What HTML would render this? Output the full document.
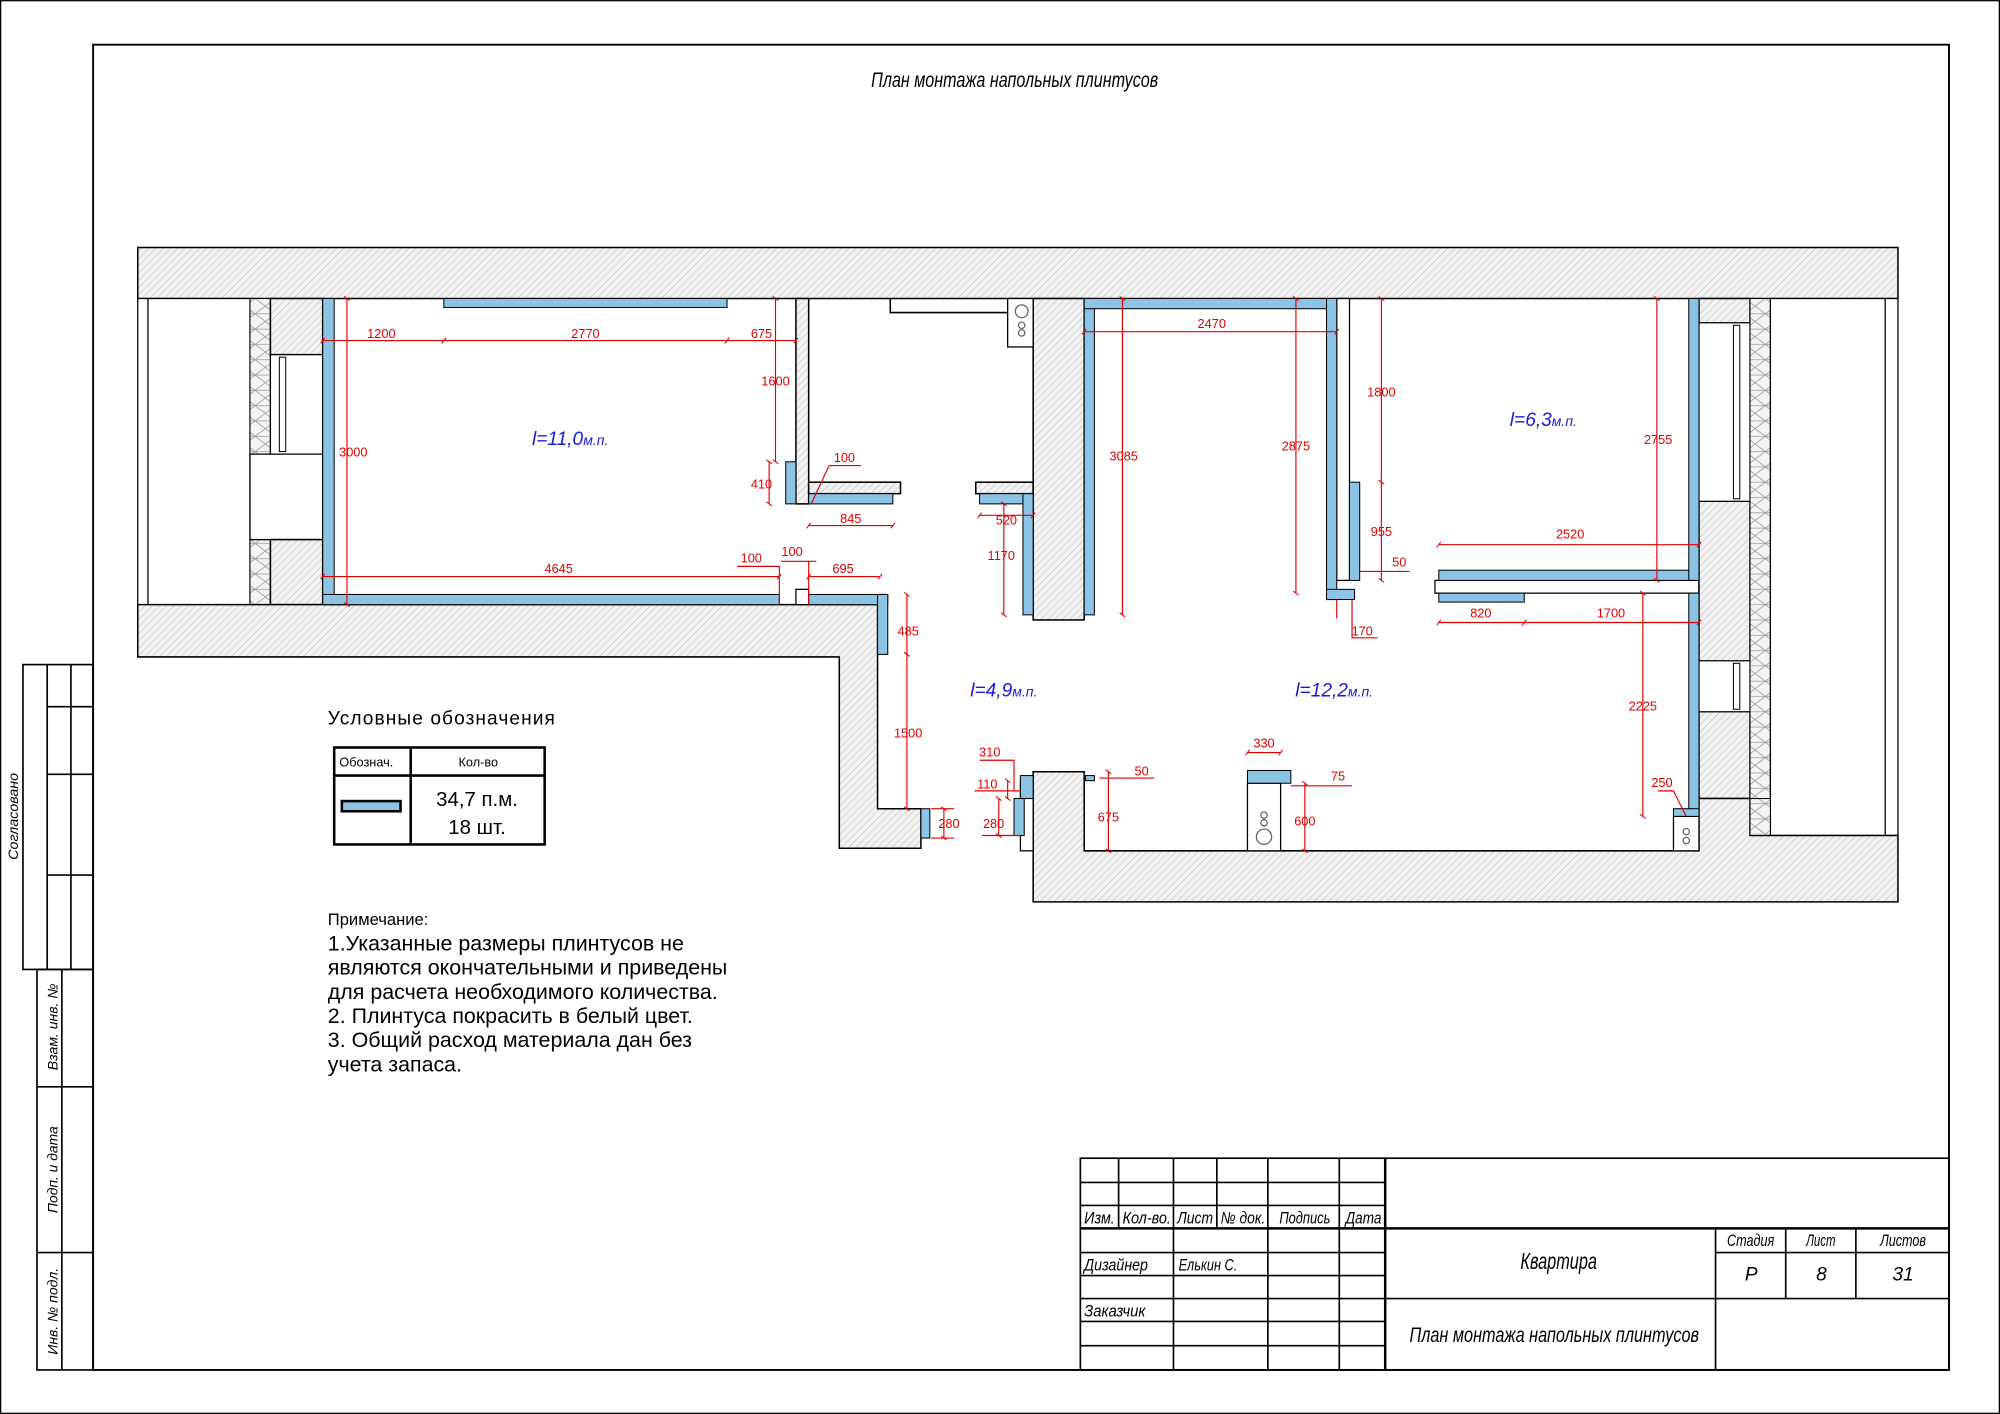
<!DOCTYPE html>
<html><head><meta charset="utf-8"><style>
html,body{margin:0;padding:0;background:#fff}
svg{display:block}
text{font-family:"Liberation Sans",sans-serif}
.it{font-style:italic}
.d{fill:#e00000;font-size:10px;text-anchor:middle}
.dl{stroke:#e00000;stroke-width:0.9;fill:none}
.b{fill:#8cc4e6;stroke:#000;stroke-width:0.8}
.h{fill:url(#hatch);stroke:#000;stroke-width:1.2}
.w{fill:#fff;stroke:#000;stroke-width:1}
.x{fill:url(#cross);stroke:#000;stroke-width:0.8}
.r{fill:#1a1adc;font-size:15px;font-style:italic}
.t{font-size:11px;font-style:italic}
</style></head><body>
<svg width="2000" height="1414" viewBox="0 0 1568 1108.5" xmlns="http://www.w3.org/2000/svg">
<defs>
<pattern id="hatch" width="4" height="4" patternUnits="userSpaceOnUse" patternTransform="rotate(45)">
<rect width="4" height="4" fill="#f2f2f2"/><line x1="0" y1="0" x2="0" y2="4" stroke="#bbb" stroke-width="0.8"/></pattern>
<pattern id="cross" width="16" height="12" patternUnits="userSpaceOnUse">
<rect width="16" height="12" fill="#f4f4f4"/><path d="M0 0L16 12M16 0L0 12M0 6H16" stroke="#999" stroke-width="0.6"/></pattern>
<marker id="tk" viewBox="0 0 10 10" refX="5" refY="5" markerWidth="6" markerHeight="6" orient="auto"><path d="M2 9L8 1" stroke="#e00000" stroke-width="1.5"/></marker>
</defs>
<rect x="0.5" y="0.5" width="1567" height="1107.5" fill="#fff" stroke="#000" stroke-width="1"/>
<rect x="73" y="35" width="1455" height="1039" fill="none" stroke="#000" stroke-width="1.5"/>
<text x="683" y="68" class="it" font-size="17" textLength="225" lengthAdjust="spacingAndGlyphs">План монтажа напольных плинтусов</text>

<!-- left strip -->
<g fill="none" stroke="#000" stroke-width="1.3">
<rect x="18" y="521" width="55" height="239"/>
<line x1="37" y1="521" x2="37" y2="760"/><line x1="55.6" y1="521" x2="55.6" y2="760"/>
<line x1="37" y1="554" x2="73" y2="554"/><line x1="37" y1="607" x2="73" y2="607"/><line x1="37" y1="686" x2="73" y2="686"/>
<rect x="29" y="760" width="44" height="314"/>
<line x1="48.5" y1="760" x2="48.5" y2="1074"/>
<line x1="29" y1="852" x2="73" y2="852"/><line x1="29" y1="982" x2="73" y2="982"/>
</g>
<g class="t" font-size="13">
<text transform="translate(14,640) rotate(-90)" x="-34" font-style="italic" textLength="68" lengthAdjust="spacingAndGlyphs">Согласовано</text>
<text transform="translate(45,805) rotate(-90)" x="-34" font-style="italic" textLength="68" lengthAdjust="spacingAndGlyphs">Взам. инв. №</text>
<text transform="translate(45,917) rotate(-90)" x="-34" font-style="italic" textLength="68" lengthAdjust="spacingAndGlyphs">Подп. и дата</text>
<text transform="translate(45,1028) rotate(-90)" x="-34" font-style="italic" textLength="68" lengthAdjust="spacingAndGlyphs">Инв. № подл.</text>
</g>

<!-- walls -->
<rect class="h" x="108" y="194" width="1380" height="40"/>
<rect class="w" x="108" y="234" width="88" height="240"/>
<line x1="116" y1="234" x2="116" y2="474" stroke="#000"/>
<rect class="x" x="196" y="234" width="16" height="122"/>
<rect class="x" x="196" y="423" width="16" height="51"/>
<rect class="h" x="212" y="234" width="41" height="44"/>
<rect class="w" x="212" y="278" width="41" height="78"/>
<rect x="219" y="280" width="5" height="74" fill="#fff" stroke="#000" stroke-width="0.8"/>
<rect class="w" x="196" y="356" width="57" height="67"/>
<rect class="h" x="212" y="423" width="41" height="51"/>
<polygon class="h" points="108,474 688,474 688,634 722,634 722,665 658,665 658,515 108,515"/>
<rect x="624" y="462" width="10" height="12" fill="#fff" stroke="#000" stroke-width="1"/>
<rect class="h" x="624" y="234" width="10" height="161"/>
<rect class="h" x="634" y="378" width="72" height="9"/>
<rect class="h" x="765" y="378" width="45" height="9"/>
<rect class="h" x="810" y="234" width="40" height="252"/>
<rect class="w" x="1048" y="234" width="10" height="221"/>
<rect class="w" x="1125" y="455" width="207" height="10"/>
<rect class="h" x="1332" y="234" width="40" height="392"/>
<rect class="w" x="1332" y="253" width="40" height="140"/>
<rect x="1359" y="255" width="5" height="136" fill="#fff" stroke="#000" stroke-width="0.8"/>
<rect class="w" x="1332" y="518" width="40" height="40"/>
<rect x="1359" y="520" width="5" height="36" fill="#fff" stroke="#000" stroke-width="0.8"/>
<rect class="x" x="1372" y="234" width="16" height="421"/>
<rect class="w" x="1388" y="234" width="100" height="421"/>
<line x1="1478" y1="234" x2="1478" y2="655" stroke="#000"/>
<polygon class="h" points="810,605 850,605 850,667 1332,667 1332,626 1372,626 1372,655 1488,655 1488,707 810,707"/>
<rect class="x" x="1372" y="626" width="16" height="29"/>
<rect class="w" x="800" y="612" width="10" height="55"/>
<!-- kitchen items -->
<polyline points="698,234 698,245 790,245" fill="none" stroke="#000" stroke-width="1.2"/>
<rect class="w" x="790" y="234" width="20" height="38"/>
<circle cx="801" cy="244" r="5" fill="none" stroke="#666"/><circle cx="801" cy="255" r="2.5" fill="none" stroke="#666"/><circle cx="801" cy="261" r="2.5" fill="none" stroke="#666"/>
<rect class="w" x="978" y="614" width="26" height="53"/>
<circle cx="991" cy="656" r="6" fill="none" stroke="#666"/><circle cx="991" cy="645" r="2.5" fill="none" stroke="#666"/><circle cx="991" cy="639" r="2.5" fill="none" stroke="#666"/>
<rect class="w" x="1312" y="640" width="20" height="27"/>
<circle cx="1322" cy="652" r="2.5" fill="none" stroke="#666"/><circle cx="1322" cy="659" r="2.5" fill="none" stroke="#666"/>

<!-- baseboards -->
<rect class="b" x="253" y="234" width="9" height="240"/>
<rect class="b" x="253" y="466" width="358" height="8"/>
<rect class="b" x="348" y="234" width="222" height="7"/>
<rect class="b" x="616" y="362" width="8" height="33"/>
<rect class="b" x="634" y="387" width="66" height="8"/>
<rect class="b" x="634" y="466" width="62" height="8"/>
<rect class="b" x="688" y="466" width="8" height="47"/>
<rect class="b" x="722" y="634" width="7" height="23"/>
<rect class="b" x="768" y="387" width="42" height="8"/>
<rect class="b" x="802" y="387" width="8" height="95"/>
<rect class="b" x="795" y="626" width="8" height="29"/>
<rect class="b" x="800" y="608" width="10" height="18"/>
<rect class="b" x="851" y="608" width="7" height="4"/>
<rect class="b" x="850" y="234" width="8" height="248"/>
<rect class="b" x="850" y="234" width="198" height="8"/>
<rect class="b" x="1040" y="234" width="8" height="236"/>
<rect class="b" x="1040" y="462" width="22" height="8"/>
<rect class="b" x="1058" y="378" width="8" height="77"/>
<rect class="b" x="1128" y="447" width="204" height="8"/>
<rect class="b" x="1324" y="234" width="8" height="221"/>
<rect class="b" x="1128" y="465" width="67" height="7"/>
<rect class="b" x="1324" y="465" width="8" height="175"/>
<rect class="b" x="1312" y="634" width="20" height="6"/>
<rect class="b" x="978" y="604" width="34" height="10"/>

<!-- dimensions -->
<g class="dl" marker-start="url(#tk)" marker-end="url(#tk)">
<line x1="253" y1="267" x2="348" y2="267"/><line x1="348" y1="267" x2="570" y2="267"/><line x1="570" y1="267" x2="624" y2="267"/>
<line x1="272" y1="234" x2="272" y2="474"/>
<line x1="608" y1="234" x2="608" y2="362"/><line x1="603" y1="362" x2="603" y2="395"/>
<line x1="634" y1="412" x2="700" y2="412"/>
<line x1="253" y1="452" x2="611" y2="452"/><line x1="634" y1="452" x2="690" y2="452"/>
<line x1="711" y1="466" x2="711" y2="513"/><line x1="711" y1="513" x2="711" y2="634"/>
<line x1="740" y1="634" x2="740" y2="657"/>
<line x1="768" y1="404" x2="810" y2="404"/><line x1="787" y1="395" x2="787" y2="482"/>
<line x1="880" y1="234" x2="880" y2="482"/>
<line x1="850" y1="260" x2="1048" y2="260"/>
<line x1="1016" y1="234" x2="1016" y2="465"/>
<line x1="1083" y1="234" x2="1083" y2="378"/><line x1="1083" y1="378" x2="1083" y2="455"/>
<line x1="1299" y1="234" x2="1299" y2="455"/>
<line x1="1128" y1="427" x2="1332" y2="427"/>
<line x1="1128" y1="488" x2="1195" y2="488"/><line x1="1195" y1="488" x2="1332" y2="488"/>
<line x1="1288" y1="465" x2="1288" y2="640"/>
<line x1="869" y1="605" x2="869" y2="667"/>
<line x1="978" y1="590" x2="1004" y2="590"/>
<line x1="1023" y1="614" x2="1023" y2="667"/>
<line x1="790" y1="612" x2="790" y2="626"/><line x1="783" y1="626" x2="783" y2="655"/>
</g>
<g class="dl">
<path d="M650 365H675M650 365L636 395"/><path d="M578 444H611M611 444V474"/><path d="M612 440H640M634 440V474"/>
<path d="M1066 448H1105"/><path d="M1048 470V485M1060 470V500H1080"/><path d="M862 610H905"/>
<path d="M1012 616H1060"/><path d="M1300 620H1312L1322 640"/><path d="M768 596H795V620"/><path d="M764 620H800"/><path d="M770 655H800"/>
<path d="M730 634H748M730 657H748"/>
</g>
<g class="d">
<text x="299" y="265">1200</text><text x="459" y="265">2770</text><text x="597" y="265">675</text>
<text x="277" y="358">3000</text><text x="608" y="302">1600</text><text x="597" y="383">410</text>
<text x="662" y="362">100</text><text x="667" y="410">845</text><text x="438" y="449">4645</text>
<text x="589" y="441">100</text><text x="621" y="436">100</text><text x="661" y="449">695</text>
<text x="712" y="498">485</text><text x="712" y="578">1500</text><text x="744" y="649">280</text>
<text x="789" y="411">520</text><text x="785" y="439">1170</text><text x="881" y="361">3085</text>
<text x="950" y="257">2470</text><text x="1016" y="353">2875</text><text x="1083" y="311">1800</text>
<text x="1083" y="420">955</text><text x="1097" y="444">50</text><text x="1068" y="498">170</text>
<text x="1300" y="348">2755</text><text x="1231" y="422">2520</text><text x="1161" y="484">820</text>
<text x="1263" y="484">1700</text><text x="1288" y="557">2225</text><text x="1303" y="617">250</text>
<text x="776" y="593">310</text><text x="774" y="618">110</text><text x="779" y="649">280</text>
<text x="895" y="608">50</text><text x="869" y="644">675</text><text x="991" y="586">330</text>
<text x="1049" y="612">75</text><text x="1023" y="647">600</text>
</g>
<text x="447" y="349" class="r" text-anchor="middle">l=11,0<tspan font-size="11">м.п.</tspan></text>
<text x="787" y="546" class="r" text-anchor="middle">l=4,9<tspan font-size="11">м.п.</tspan></text>
<text x="1046" y="546" class="r" text-anchor="middle">l=12,2<tspan font-size="11">м.п.</tspan></text>
<text x="1210" y="334" class="r" text-anchor="middle">l=6,3<tspan font-size="11">м.п.</tspan></text>

<!-- legend -->
<text x="257" y="568" font-size="15" textLength="178">Условные обозначения</text>
<g fill="none" stroke="#000" stroke-width="2">
<rect x="262" y="586" width="165" height="76"/><line x1="322" y1="586" x2="322" y2="662"/><line x1="262" y1="608" x2="427" y2="608"/>
</g>
<text x="266" y="601" font-size="10">Обознач.</text><text x="375" y="601" font-size="10" text-anchor="middle">Кол-во</text>
<rect x="268" y="628" width="46" height="8" fill="#8cc4e6" stroke="#000" stroke-width="2"/>
<text x="374" y="632" font-size="16" text-anchor="middle">34,7 п.м.</text>
<text x="374" y="654" font-size="16" text-anchor="middle">18 шт.</text>
<text x="257" y="725" font-size="13">Примечание:</text>
<g font-size="16.8">
<text x="257" y="745">1.Указанные размеры плинтусов не</text>
<text x="257" y="764">являются окончательными и приведены</text>
<text x="257" y="783">для расчета необходимого количества.</text>
<text x="257" y="802">2. Плинтуса покрасить в белый цвет.</text>
<text x="257" y="821">3. Общий расход материала дан без</text>
<text x="257" y="840">учета запаса.</text>
</g>

<!-- title block -->
<g fill="none" stroke="#000" stroke-width="1.3">
<rect x="847" y="908" width="681" height="166"/>
<line x1="847" y1="927" x2="1086" y2="927"/><line x1="847" y1="945" x2="1086" y2="945"/>
<line x1="847" y1="963" x2="1528" y2="963" stroke-width="2"/>
<line x1="847" y1="982" x2="1086" y2="982"/><line x1="847" y1="1000" x2="1086" y2="1000"/>
<line x1="847" y1="1018" x2="1528" y2="1018"/><line x1="847" y1="1036" x2="1086" y2="1036"/><line x1="847" y1="1055" x2="1086" y2="1055"/>
<line x1="877" y1="908" x2="877" y2="963"/><line x1="954" y1="908" x2="954" y2="963"/>
<line x1="920" y1="908" x2="920" y2="1074"/><line x1="994" y1="908" x2="994" y2="1074"/>
<line x1="1050" y1="908" x2="1050" y2="1074"/><line x1="1086" y1="908" x2="1086" y2="1074" stroke-width="2"/>
<line x1="1345" y1="963" x2="1345" y2="1074"/><line x1="1400" y1="963" x2="1400" y2="1018"/><line x1="1455" y1="963" x2="1455" y2="1018"/>
<line x1="1345" y1="982" x2="1528" y2="982"/>
</g>
<g font-size="13" font-style="italic">
<text x="850" y="959" textLength="24" lengthAdjust="spacingAndGlyphs">Изм.</text>
<text x="880" y="959" textLength="38" lengthAdjust="spacingAndGlyphs">Кол-во.</text>
<text x="923" y="959" textLength="28" lengthAdjust="spacingAndGlyphs">Лист</text>
<text x="957" y="959" textLength="35" lengthAdjust="spacingAndGlyphs">№ док.</text>
<text x="1003" y="959" textLength="40" lengthAdjust="spacingAndGlyphs">Подпись</text>
<text x="1055" y="959" textLength="28" lengthAdjust="spacingAndGlyphs">Дата</text>
<text x="850" y="996" textLength="50" lengthAdjust="spacingAndGlyphs">Дизайнер</text>
<text x="924" y="996" textLength="46" lengthAdjust="spacingAndGlyphs">Елькин С.</text>
<text x="850" y="1032" textLength="48" lengthAdjust="spacingAndGlyphs">Заказчик</text>
<text x="1354" y="977" textLength="37" lengthAdjust="spacingAndGlyphs">Стадия</text>
<text x="1416" y="977" textLength="23" lengthAdjust="spacingAndGlyphs">Лист</text>
<text x="1474" y="977" textLength="36" lengthAdjust="spacingAndGlyphs">Листов</text>
<text x="1373" y="1004" text-anchor="middle" font-size="15">Р</text>
<text x="1428" y="1004" text-anchor="middle" font-size="15">8</text>
<text x="1492" y="1004" text-anchor="middle" font-size="15">31</text>
</g>
<text x="1192" y="995" font-size="18" class="it" textLength="60" lengthAdjust="spacingAndGlyphs">Квартира</text>
<text x="1105" y="1052" font-size="17" class="it" textLength="227" lengthAdjust="spacingAndGlyphs">План монтажа напольных плинтусов</text>
</svg>
</body></html>
